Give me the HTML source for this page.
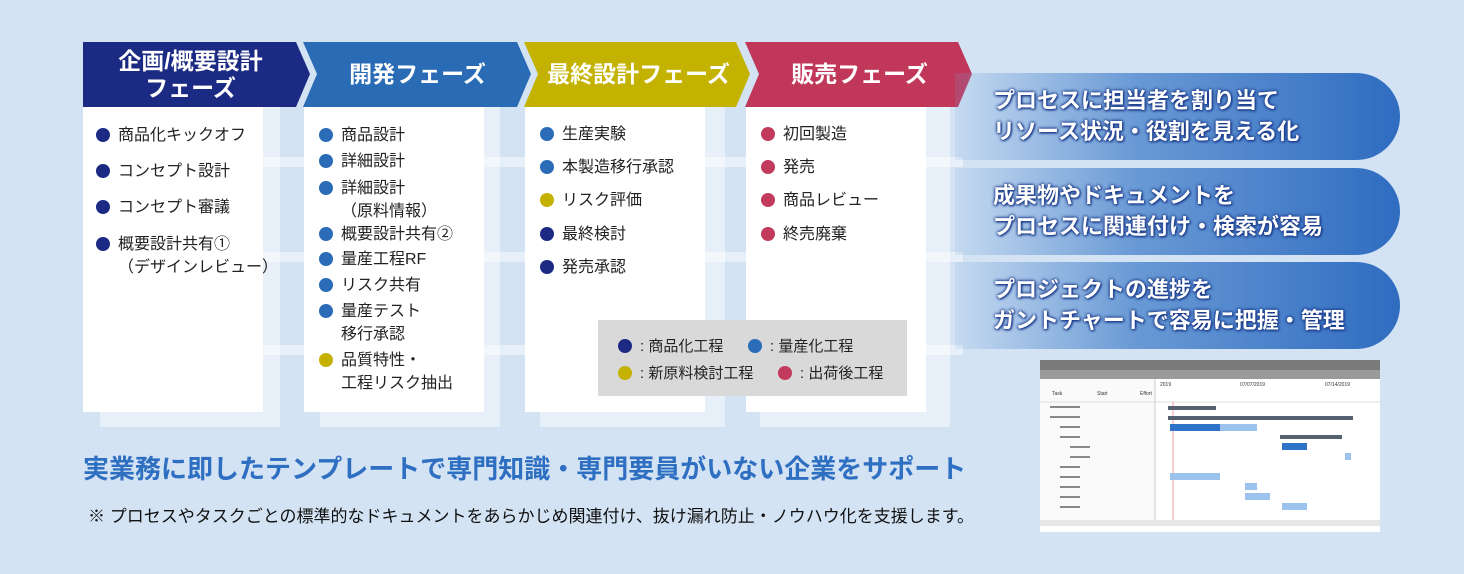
<!DOCTYPE html>
<html><head><meta charset="utf-8"><style>
body{margin:0;width:1464px;height:574px;overflow:hidden;background:#d3e3f4;font-family:"Liberation Sans","Noto Sans CJK JP",sans-serif;position:relative}
.a{position:absolute}
.hd{position:absolute;top:42px;height:65px;color:#fff;font-weight:bold;font-size:23px;display:flex;align-items:center;justify-content:center;text-align:center;line-height:27px}
.pn{position:absolute;top:107px;height:305px;background:#fff}
.sh{position:absolute;background:rgba(255,255,255,.45)}
.it{position:absolute;font-size:16px;color:#222;line-height:23px;white-space:nowrap}
.it i{position:absolute;left:-22px;top:4px;width:14px;height:14px;border-radius:50%}
.n{background:#1c2a84}.b{background:#2a6cb8}.y{background:#c5b200}.r{background:#c23a5c}
.pill{position:absolute;left:955px;width:445px;height:87px;border-radius:0 44px 44px 0;background:linear-gradient(90deg,rgba(120,165,220,.15),#6a9ad5 40%,#2f6cc0);color:#fff;font-weight:bold;font-size:22px;line-height:31px;padding:12px 0 0 38px;box-sizing:border-box;text-shadow:0 0 3px #1a3a8a,0 0 3px #1a3a8a,1px 1px 2px #1a3a8a}
</style></head><body>
<div class="sh" style="left:100px;top:107px;width:180px;height:320px"></div>
<div class="sh" style="left:320px;top:107px;width:180px;height:320px"></div>
<div class="sh" style="left:540px;top:107px;width:185px;height:320px"></div>
<div class="sh" style="left:760px;top:107px;width:190px;height:320px"></div>
<div class="sh" style="left:83px;top:157px;width:880px;height:10px"></div>
<div class="sh" style="left:83px;top:252px;width:880px;height:10px"></div>
<div class="sh" style="left:83px;top:345px;width:880px;height:10px"></div>

<svg class="a" style="left:0;top:0" width="1000" height="110">
<polygon points="83,42 296,42 310,74 296,107 83,107" fill="#1b2a82"/>
<polygon points="303,42 517,42 531,74 517,107 303,107 317,74" fill="#2a6bb6"/>
<polygon points="524,42 736,42 750,74 736,107 524,107 538,74" fill="#c4b201"/>
<polygon points="745,42 958,42 972,74 958,107 745,107 759,74" fill="#c03759"/>
</svg>
<div class="hd" style="left:83px;width:215px">企画/概要設計<br>フェーズ</div>
<div class="hd" style="left:315px;width:205px">開発フェーズ</div>
<div class="hd" style="left:536px;width:205px">最終設計フェーズ</div>
<div class="hd" style="left:757px;width:205px">販売フェーズ</div>

<div class="pn" style="left:83px;width:180px"></div>
<div class="pn" style="left:304px;width:180px"></div>
<div class="pn" style="left:525px;width:180px"></div>
<div class="pn" style="left:746px;width:180px"></div>

<div class="it" style="left:118px;top:124px"><i class="n"></i>商品化キックオフ</div>
<div class="it" style="left:118px;top:160px"><i class="n"></i>コンセプト設計</div>
<div class="it" style="left:118px;top:196px"><i class="n"></i>コンセプト審議</div>
<div class="it" style="left:118px;top:233px"><i class="n"></i>概要設計共有①<br>（デザインレビュー）</div>

<div class="it" style="left:341px;top:124px"><i class="b"></i>商品設計</div>
<div class="it" style="left:341px;top:150px"><i class="b"></i>詳細設計</div>
<div class="it" style="left:341px;top:177px"><i class="b"></i>詳細設計<br>（原料情報）</div>
<div class="it" style="left:341px;top:223px"><i class="b"></i>概要設計共有②</div>
<div class="it" style="left:341px;top:248px"><i class="b"></i>量産工程RF</div>
<div class="it" style="left:341px;top:274px"><i class="b"></i>リスク共有</div>
<div class="it" style="left:341px;top:300px"><i class="b"></i>量産テスト<br>移行承認</div>
<div class="it" style="left:341px;top:349px"><i class="y"></i>品質特性・<br>工程リスク抽出</div>

<div class="it" style="left:562px;top:123px"><i class="b"></i>生産実験</div>
<div class="it" style="left:562px;top:156px"><i class="b"></i>本製造移行承認</div>
<div class="it" style="left:562px;top:189px"><i class="y"></i>リスク評価</div>
<div class="it" style="left:562px;top:223px"><i class="n"></i>最終検討</div>
<div class="it" style="left:562px;top:256px"><i class="n"></i>発売承認</div>

<div class="it" style="left:783px;top:123px"><i class="r"></i>初回製造</div>
<div class="it" style="left:783px;top:156px"><i class="r"></i>発売</div>
<div class="it" style="left:783px;top:189px"><i class="r"></i>商品レビュー</div>
<div class="it" style="left:783px;top:223px"><i class="r"></i>終売廃棄</div>

<div class="a" style="left:598px;top:320px;width:309px;height:76px;background:#d9d9d9"></div>
<div class="it" style="left:640px;top:335px;font-size:15px"><i class="n"></i>: 商品化工程</div>
<div class="it" style="left:770px;top:335px;font-size:15px"><i class="b"></i>: 量産化工程</div>
<div class="it" style="left:640px;top:362px;font-size:15px"><i class="y"></i>: 新原料検討工程</div>
<div class="it" style="left:800px;top:362px;font-size:15px"><i class="r"></i>: 出荷後工程</div>

<div class="pill" style="top:73px">プロセスに担当者を割り当て<br>リソース状況・役割を見える化</div>
<div class="pill" style="top:168px">成果物やドキュメントを<br>プロセスに関連付け・検索が容易</div>
<div class="pill" style="top:262px">プロジェクトの進捗を<br>ガントチャートで容易に把握・管理</div>

<div class="a" style="left:83px;top:449px;font-size:26px;font-weight:bold;color:#2e6fc2;white-space:nowrap">実業務に即したテンプレートで専門知識・専門要員がいない企業をサポート</div>
<div class="a" style="left:88px;top:502px;font-size:17px;color:#111;white-space:nowrap">※ プロセスやタスクごとの標準的なドキュメントをあらかじめ関連付け、抜け漏れ防止・ノウハウ化を支援します。</div>

<svg class="a" style="left:1040px;top:360px" width="340" height="172">
<rect width="340" height="172" fill="#fff"/>
<rect width="340" height="10" fill="#7a7a7a"/>
<rect y="10" width="340" height="9" fill="#9a9a9a"/>
<rect y="19" width="115" height="141" fill="#fafafa"/>
<line x1="115" y1="19" x2="115" y2="160" stroke="#ccc"/>
<line x1="0" y1="42" x2="340" y2="42" stroke="#ddd"/>
<g font-size="5" fill="#333">
<text x="12" y="35">Task</text><text x="57" y="35">Start</text><text x="100" y="35">Effort</text>
<text x="120" y="26">2019</text><text x="200" y="26">07/07/2019</text><text x="285" y="26">07/14/2019</text>
</g>
<line x1="133" y1="42" x2="133" y2="160" stroke="#f4a0a0"/>
<rect x="128" y="46" width="48" height="4" fill="#556070"/>
<rect x="128" y="56" width="185" height="4" fill="#556070"/>
<rect x="130" y="64" width="50" height="7" fill="#2f73c8"/><rect x="180" y="64" width="37" height="7" fill="#9cc2ee"/>
<rect x="240" y="75" width="62" height="4" fill="#556070"/>
<rect x="242" y="83" width="25" height="7" fill="#2f73c8"/>
<rect x="305" y="93" width="6" height="7" fill="#9cc2ee"/>
<rect x="130" y="113" width="50" height="7" fill="#9cc2ee"/>
<rect x="205" y="123" width="12" height="7" fill="#9cc2ee"/>
<rect x="205" y="133" width="25" height="7" fill="#9cc2ee"/>
<rect x="242" y="143" width="25" height="7" fill="#9cc2ee"/>
<g fill="#888"><rect x="10" y="46" width="30" height="2"/><rect x="10" y="56" width="30" height="2"/><rect x="20" y="66" width="20" height="2"/><rect x="20" y="76" width="20" height="2"/><rect x="30" y="86" width="20" height="2"/><rect x="30" y="96" width="20" height="2"/><rect x="20" y="106" width="20" height="2"/><rect x="20" y="116" width="20" height="2"/><rect x="20" y="126" width="20" height="2"/><rect x="20" y="136" width="20" height="2"/><rect x="20" y="146" width="20" height="2"/></g>
<rect y="160" width="340" height="6" fill="#e6e6e6"/>
</svg>
</body></html>
